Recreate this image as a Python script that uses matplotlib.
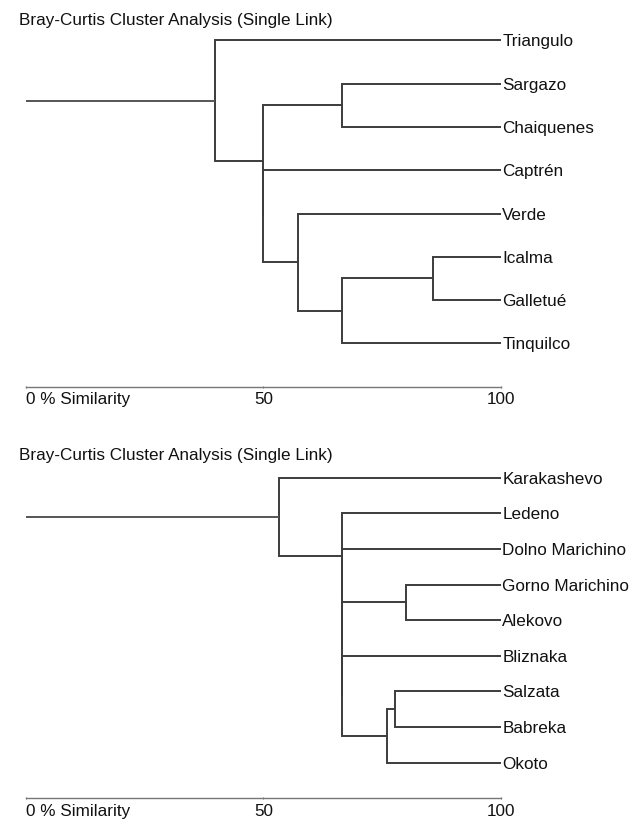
"""
Bray-Curtis single-link dendrograms (two lake / site sets), stacked vertically.
"""

import matplotlib
matplotlib.use("Agg")  # no gui
import matplotlib.pyplot as plt

plt.rcParams["font.family"] = ["Liberation Sans", "DejaVu Sans"]

TITLE = "Bray-Curtis Cluster Analysis (Single Link)"
TICKS = [0, 50, 100]
TICK_LABELS = ["0 % Similarity", "50", "100"]

# top dendrogram
TOP_LEAVES = ["Triangulo", "Sargazo", "Chaiquenes", "Captrén", "Verde",
              "Icalma", "Galletué", "Tinquilco"]
# merges: (child a, child b, % similarity); new cluster ids continue after leaves
TOP_MERGES = [
    (5, 6, 85.6),
    (8, 7, 66.5),
    (1, 2, 66.5),
    (4, 9, 57.3),
    (3, 11, 50.0),
    (10, 12, 50.0),
    (0, 13, 39.9),
]

# bottom dendrogram
BOT_LEAVES = ["Karakashevo", "Ledeno", "Dolno Marichino", "Gorno Marichino",
              "Alekovo", "Bliznaka", "Salzata", "Babreka", "Okoto"]
BOT_MERGES = [
    (6, 7, 77.6),
    (9, 8, 76.1),
    (3, 4, 80.0),
    (5, 10, 66.5),
    (11, 12, 66.5),
    (2, 13, 66.5),
    (1, 14, 66.5),
    (0, 15, 53.3),
]

LINE_COLOR = "#3c3c3c"
FS = 12.3


def draw_dendrogram(ax, leaves, merges, axis_y, title_y):
    # leaf positions: x = 100 % similarity, y = row index
    xs = {i: 100.0 for i in range(len(leaves))}
    ys = {i: float(i) for i in range(len(leaves))}

    for k, (a, b, sim) in enumerate(merges):
        node = len(leaves) + k
        ax.plot([xs[a], sim, sim, xs[b]], [ys[a], ys[a], ys[b], ys[b]],
                color=LINE_COLOR, lw=1.4, solid_capstyle="butt",
                solid_joinstyle="miter")
        xs[node] = sim
        ys[node] = (ys[a] + ys[b]) / 2

    root = len(leaves) + len(merges) - 1
    ax.plot([0, xs[root]], [ys[root], ys[root]], color="#555555", lw=1.4,
            solid_capstyle="butt")

    for i, name in enumerate(leaves):
        ax.text(100.3, i, name, ha="left", va="center_baseline", fontsize=FS,
                color="#111111", clip_on=False)

    ax.text(-1.5, title_y, TITLE, ha="left", va="center_baseline",
            fontsize=FS, color="#111111", clip_on=False)

    ax.set_xlim(0, 100)
    for side in ["left", "right", "top"]:
        ax.spines[side].set_visible(False)
    ax.spines["bottom"].set_position(("data", axis_y))
    ax.spines["bottom"].set_color("#777777")
    ax.spines["bottom"].set_linewidth(1.0)
    ax.set_yticks([])
    ax.set_xticks(TICKS)
    ax.set_xticklabels(TICK_LABELS, fontsize=FS, color="#111111")
    ax.get_xticklabels()[0].set_horizontalalignment("left")
    ax.tick_params(axis="x", length=2, width=0.8, color="#777777",
                   direction="inout", pad=3)


fig = plt.figure(figsize=(6.34, 8.23), dpi=100)

# top panel: rows 0..7, axis at row 8
ax1 = fig.add_axes([0.0405, 0.5039, 0.7497, 0.4891])
ax1.set_ylim(8.5, -0.8)
draw_dendrogram(ax1, TOP_LEAVES, TOP_MERGES, 8, -0.5)

# bottom panel: rows 0..8, axis at row 9
ax2 = fig.add_axes([0.0405, 0.0084, 0.7497, 0.4542])
ax2.set_ylim(9.5, -1.0)
draw_dendrogram(ax2, BOT_LEAVES, BOT_MERGES, 9, -0.68)

fig.savefig("out.png", dpi=100)
plt.close(fig)
